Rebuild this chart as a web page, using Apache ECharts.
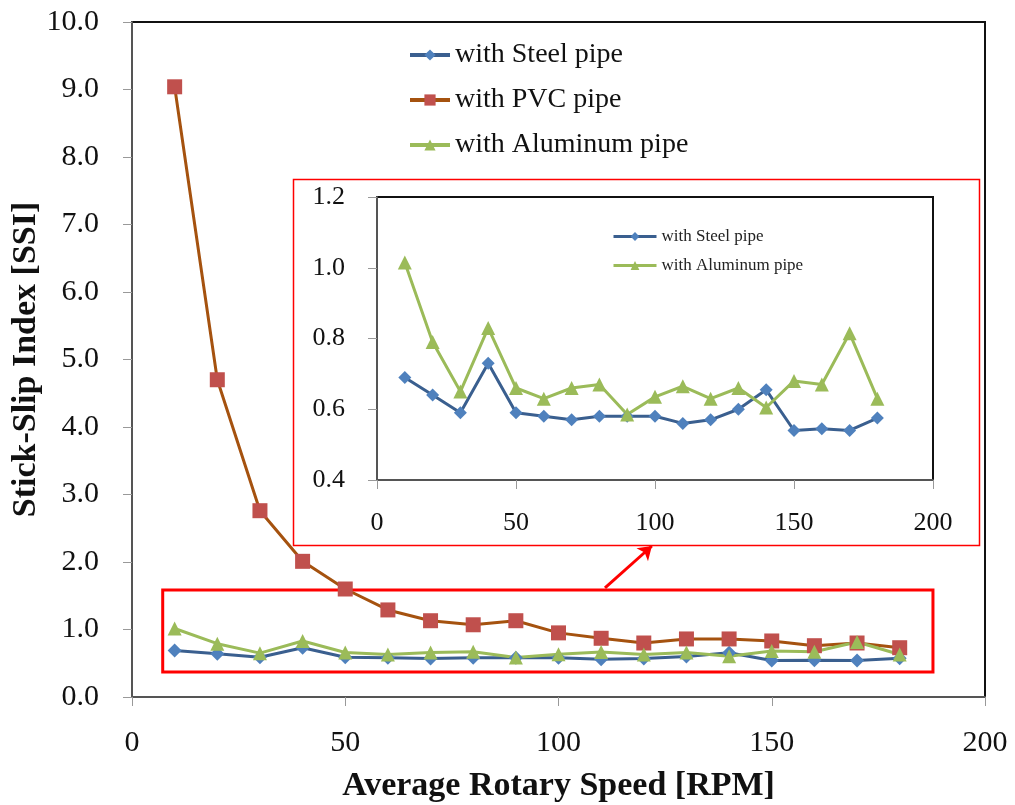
<!DOCTYPE html>
<html>
<head>
<meta charset="utf-8">
<script src="https://cdn.jsdelivr.net/npm/echarts@6/dist/echarts.min.js"></script>
<style>
  html, body { margin: 0; padding: 0; background: #fff; }
  #chart { width: 1015px; height: 805px; }
</style>
</head>
<body>
<div id="chart"></div>
<script>
const speeds = [10, 20, 30, 40, 50, 60, 70, 80, 90, 100, 110, 120, 130, 140, 150, 160, 170, 180];
const steelSSI = [0.69, 0.64, 0.59, 0.73, 0.59, 0.58, 0.57, 0.58, 0.58, 0.58, 0.56, 0.57, 0.60, 0.655, 0.54, 0.545, 0.54, 0.575];
const pvcSSI = [9.04, 4.70, 2.76, 2.01, 1.60, 1.29, 1.13, 1.07, 1.13, 0.95, 0.87, 0.80, 0.86, 0.86, 0.83, 0.76, 0.80, 0.73];
const aluminumSSI = [1.015, 0.79, 0.65, 0.83, 0.66, 0.63, 0.66, 0.67, 0.585, 0.635, 0.665, 0.63, 0.66, 0.605, 0.68, 0.67, 0.815, 0.63];

const pairs = vals => speeds.map((s, i) => [s, vals[i]]);

const serif = '"Liberation Serif", "DejaVu Serif", serif';
const steelLine = '#3A5F8F', steelMark = '#4F81BD';
const pvcLine = '#A5520F', pvcMark = '#C0504D';
const aluLine = '#9BBB59', aluMark = '#9BBB59';

const chart = echarts.init(document.getElementById('chart'));

function xAxisOf(gridIndex, fontSize, margin) {
  return {
    gridIndex: gridIndex, type: 'value', min: 0, max: 200, interval: 50,
    splitLine: { show: false },
    axisLine: { lineStyle: { color: '#555', width: 2 } },
    axisTick: { length: 9, lineStyle: { color: '#999', width: 1 } },
    axisLabel: { fontFamily: serif, fontSize: fontSize, color: '#111', margin: margin }
  };
}

const option = {
  animation: false,
  legend: [
    {
      data: ['with Steel pipe', 'with PVC pipe', 'with Aluminum pipe'],
      orient: 'vertical', left: 403, top: 36, itemGap: 17,
      itemWidth: 40, itemHeight: 14,
      lineStyle: { width: 4 },
      textStyle: { fontFamily: serif, fontSize: 28, color: '#111' }
    },
    {
      data: ['with Steel pipe', 'with Aluminum pipe'],
      orient: 'vertical', left: 607, top: 223, itemGap: 12,
      itemWidth: 43, itemHeight: 11,
      lineStyle: { width: 3 },
      textStyle: { fontFamily: serif, fontSize: 17, color: '#222' }
    }
  ],
  graphic: [
    {
      type: 'rect', z: 0,
      shape: { x: 293.5, y: 179.5, width: 686, height: 366 },
      style: { fill: '#fff', stroke: '#ff0000', lineWidth: 1.5 }
    }
  ],
  grid: [
    { left: 132, right: 30, top: 22, bottom: 108, outerBoundsMode: 'none', containLabel: false,
      show: true, borderColor: '#111', borderWidth: 2 },
    { left: 377, right: 82, top: 197, bottom: 325, outerBoundsMode: 'none', containLabel: false,
      show: true, borderColor: '#111', borderWidth: 2, z: 3 }
  ],
  xAxis: [
    Object.assign(xAxisOf(0, 30, 31), {
      name: 'Average Rotary Speed [RPM]', nameLocation: 'middle', nameGap: 72,
      nameTextStyle: { fontFamily: serif, fontSize: 34, fontWeight: 'bold', color: '#111' }
    }),
    Object.assign(xAxisOf(1, 26, 30), { z: 3 })
  ],
  yAxis: [
    {
      gridIndex: 0, type: 'value', min: 0, max: 10, interval: 1,
      name: 'Stick-Slip Index [SSI]', nameLocation: 'middle', nameGap: 106, nameMoveOverlap: false,
      nameTextStyle: { fontFamily: serif, fontSize: 34, fontWeight: 'bold', color: '#111',
        align: 'center', verticalAlign: 'middle' },
      splitLine: { show: false },
      axisLine: { lineStyle: { color: '#555', width: 2 } },
      axisTick: { length: 9, lineStyle: { color: '#999', width: 1 } },
      axisLabel: { fontFamily: serif, fontSize: 30, color: '#111', margin: 33, formatter: v => v.toFixed(1) }
    },
    {
      gridIndex: 1, type: 'value', min: 0.4, max: 1.2, interval: 0.2, z: 3,
      splitLine: { show: false },
      axisLine: { lineStyle: { color: '#555', width: 2 } },
      axisTick: { length: 9, lineStyle: { color: '#999', width: 1 } },
      axisLabel: { fontFamily: serif, fontSize: 26, color: '#111', margin: 32, formatter: v => v.toFixed(1) }
    }
  ],
  series: [
    {
      name: 'with Steel pipe', type: 'line', data: pairs(steelSSI),
      symbol: 'diamond', symbolSize: 14,
      lineStyle: { color: steelLine, width: 3 }, itemStyle: { color: steelMark }
    },
    {
      name: 'with PVC pipe', type: 'line', data: pairs(pvcSSI),
      symbol: 'rect', symbolSize: 15,
      lineStyle: { color: pvcLine, width: 3 }, itemStyle: { color: pvcMark },
      markArea: {
        silent: true,
        itemStyle: { color: 'rgba(0,0,0,0)', borderColor: '#ff0000', borderWidth: 3 },
        data: [[{ coord: [7.2, 1.585] }, { coord: [187.8, 0.37] }]]
      },
      markLine: {
        silent: true, symbol: ['none', 'arrow'], symbolSize: 13,
        label: { show: false },
        lineStyle: { color: '#ff0000', width: 3, type: 'solid' },
        data: [[{ coord: [110.9, 1.615] }, { coord: [121.9, 2.237] }]]
      }
    },
    {
      name: 'with Aluminum pipe', type: 'line', data: pairs(aluminumSSI),
      symbol: 'triangle', symbolSize: 14,
      lineStyle: { color: aluLine, width: 3 }, itemStyle: { color: aluMark }
    },
    {
      name: 'with Steel pipe', type: 'line', xAxisIndex: 1, yAxisIndex: 1, z: 4,
      data: pairs(steelSSI), symbol: 'diamond', symbolSize: 13,
      lineStyle: { color: steelLine, width: 3 }, itemStyle: { color: steelMark }
    },
    {
      name: 'with Aluminum pipe', type: 'line', xAxisIndex: 1, yAxisIndex: 1, z: 4,
      data: pairs(aluminumSSI), symbol: 'triangle', symbolSize: 14,
      lineStyle: { color: aluLine, width: 3 }, itemStyle: { color: aluMark }
    }
  ]
};

option && chart.setOption(option);
</script>
</body>
</html>
